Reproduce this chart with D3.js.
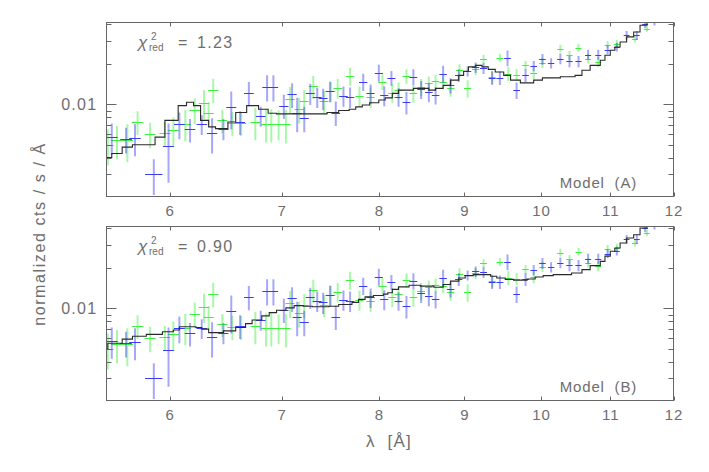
<!DOCTYPE html>
<html><head><meta charset="utf-8">
<script src="https://cdnjs.cloudflare.com/ajax/libs/d3/7.8.5/d3.min.js"></script>
<style>
html,body{margin:0;padding:0;background:#fff;}
svg{display:block;}
text{font-family:"Liberation Sans",Arial,sans-serif;fill:#6e6e6e;}
</style></head>
<body><svg id="chart" width="709" height="472"></svg>
<script>
// ---- data: [lambda (Å), normalized cts/s/Å, 1-sigma error] ----
const blueData = [
 [5.54,0.0057,0.0015],[5.65,0.0055,0.0012],[5.72,0.0056,0.0015],[5.87,0.0030,0.0009],
 [5.99,0.0049,0.0023],[6.08,0.0071,0.0016],[6.17,0.0065,0.0013],[6.27,0.0071,0.0012],
 [6.36,0.0061,0.0018],[6.46,0.0066,0.0012],[6.53,0.0095,0.0030],[6.61,0.0074,0.0015],
 [6.69,0.0122,0.0025],[6.80,0.0082,0.0014],[6.86,0.0135,0.0030],[6.92,0.0135,0.0030],
 [7.02,0.0098,0.0020],[7.10,0.0119,0.0025],[7.15,0.0087,0.0025],[7.22,0.0079,0.0017],
 [7.28,0.0121,0.0022],[7.35,0.0114,0.0020],[7.41,0.0111,0.0020],[7.48,0.0126,0.0022],
 [7.54,0.0087,0.0018],[7.62,0.0116,0.0020],[7.69,0.0114,0.0020],[7.83,0.0148,0.0022],
 [7.91,0.0121,0.0020],[8.00,0.0173,0.0025],[8.06,0.0117,0.0020],[8.14,0.0158,0.0020],
 [8.22,0.0114,0.0018],[8.31,0.0104,0.0020],[8.39,0.0161,0.0022],[8.48,0.0130,0.0020],
 [8.57,0.0124,0.0020],[8.65,0.0117,0.0017],[8.74,0.0170,0.0025],[8.83,0.0139,0.0018],
 [8.93,0.0165,0.0018],[9.04,0.0177,0.0015],[9.14,0.0189,0.0017],[9.24,0.0186,0.0017],
 [9.35,0.0158,0.0018],[9.45,0.0158,0.0018],[9.55,0.0223,0.0030],[9.67,0.0128,0.0018],
 [9.79,0.0165,0.0018],[9.90,0.0194,0.0017],[10.02,0.0218,0.0020],[10.14,0.0204,0.0018],
 [10.27,0.0220,0.0020],[10.40,0.0210,0.0020],[10.53,0.0210,0.0020],[10.67,0.0236,0.0020],
 [10.82,0.0236,0.0020],[10.96,0.0257,0.0020],[11.10,0.0269,0.0020],[11.25,0.0329,0.0025],
 [11.41,0.0329,0.0025],[11.54,0.0402,0.0030],[11.69,0.0420,0.0030]
];
const greenData = [
 [5.51,0.0050,0.0015],[5.58,0.0054,0.0015],[5.66,0.0054,0.0017],[5.74,0.0074,0.0015],
 [5.84,0.0060,0.0013],[5.96,0.0061,0.0013],[6.03,0.0064,0.0016],[6.13,0.0072,0.0019],
 [6.21,0.0091,0.0020],[6.29,0.0103,0.0025],[6.33,0.0087,0.0017],[6.37,0.0129,0.0027],
 [6.45,0.0076,0.0015],[6.54,0.0073,0.0015],[6.62,0.0073,0.0015],[6.75,0.0074,0.0020],
 [6.85,0.0072,0.0020],[6.90,0.0072,0.0020],[6.97,0.0072,0.0018],[7.04,0.0071,0.0020],
 [7.08,0.0110,0.0025],[7.17,0.0092,0.0020],[7.22,0.0106,0.0022],[7.31,0.0137,0.0027],
 [7.42,0.0106,0.0020],[7.49,0.0126,0.0022],[7.56,0.0133,0.0022],[7.69,0.0163,0.0025],
 [7.79,0.0116,0.0020],[7.91,0.0114,0.0020],[8.04,0.0148,0.0020],[8.15,0.0122,0.0020],
 [8.22,0.0128,0.0018],[8.31,0.0163,0.0020],[8.39,0.0121,0.0018],[8.48,0.0135,0.0020],
 [8.57,0.0144,0.0018],[8.65,0.0149,0.0018],[8.74,0.0148,0.0018],[8.83,0.0132,0.0018],
 [8.94,0.0180,0.0020],[9.04,0.0132,0.0020],[9.14,0.0183,0.0018],[9.24,0.0217,0.0017],
 [9.35,0.0161,0.0018],[9.45,0.0223,0.0015],[9.56,0.0170,0.0020],[9.67,0.0167,0.0017],
 [9.79,0.0196,0.0015],[9.90,0.0172,0.0018],[10.02,0.0205,0.0018],[10.27,0.0262,0.0017],
 [10.40,0.0233,0.0018],[10.53,0.0266,0.0018],[10.67,0.0220,0.0018],[10.82,0.0208,0.0018],
 [10.96,0.0280,0.0018],[11.10,0.0285,0.0020],[11.38,0.0311,0.0020],[11.57,0.0369,0.0020]
];
// half width of the wavelength bins (Å); wider bins listed separately
const binHalfWidth = 0.045;
const wideBins = {"5.87":0.07};

// ---- models: step functions [bin start λ, value] ----
const modelA = [
 [5.50,0.0040],[5.54,0.0043],[5.62,0.0048],[5.70,0.0050],[5.88,0.0057],[5.96,0.0076],
 [6.07,0.0098],[6.14,0.0104],[6.20,0.0098],[6.26,0.0076],[6.33,0.0068],[6.39,0.0066],
 [6.50,0.0074],[6.57,0.0087],[6.67,0.0098],[6.78,0.0092],[6.87,0.0086],[6.95,0.0085],
 [7.45,0.0087],[7.57,0.0090],[7.68,0.0092],[7.75,0.0096],[7.82,0.0099],[7.90,0.0103],
 [8.00,0.0108],[8.07,0.0112],[8.15,0.0121],[8.22,0.0128],[8.39,0.0132],[8.57,0.0128],
 [8.65,0.0132],[8.74,0.0139],[8.83,0.0152],[8.93,0.0165],[8.99,0.0177],[9.05,0.0191],
 [9.14,0.0196],[9.22,0.0191],[9.30,0.0183],[9.39,0.0175],[9.50,0.0165],[9.59,0.0152],
 [9.72,0.0145],[9.90,0.0152],[10.02,0.0158],[10.27,0.0161],[10.48,0.0165],[10.58,0.0180],
 [10.70,0.0196],[10.85,0.0214],[10.92,0.0233],[11.00,0.0254],[11.07,0.0269],[11.15,0.0293],
 [11.25,0.0320],[11.36,0.0348],[11.46,0.0391],[11.57,0.0414],[11.65,0.0450],[11.75,0.0500]
];
const modelB = [
 [5.50,0.0050],[5.51,0.0055],[5.62,0.0059],[5.70,0.0062],[5.81,0.0064],[5.94,0.0067],
 [6.03,0.0069],[6.08,0.0073],[6.22,0.0072],[6.27,0.0070],[6.33,0.0066],[6.46,0.0068],
 [6.57,0.0072],[6.66,0.0077],[6.72,0.0082],[6.81,0.0088],[6.88,0.0093],[6.95,0.0097],
 [7.04,0.0101],[7.12,0.0105],[7.21,0.0104],[7.30,0.0103],[7.47,0.0104],[7.57,0.0107],
 [7.71,0.0111],[7.78,0.0117],[7.85,0.0122],[7.94,0.0125],[8.05,0.0128],[8.10,0.0131],
 [8.15,0.0139],[8.22,0.0145],[8.34,0.0149],[8.47,0.0147],[8.63,0.0144],[8.74,0.0151],
 [8.83,0.0160],[8.93,0.0169],[9.01,0.0176],[9.11,0.0179],[9.33,0.0174],[9.41,0.0169],
 [9.52,0.0165],[9.63,0.0163],[9.81,0.0166],[9.92,0.0172],[10.03,0.0176],[10.17,0.0179],
 [10.43,0.0184],[10.58,0.0195],[10.70,0.0209],[10.85,0.0225],[10.92,0.0246],[11.00,0.0268],
 [11.07,0.0283],[11.15,0.0309],[11.25,0.0336],[11.36,0.0356],[11.46,0.0400],[11.57,0.0423],
 [11.65,0.0470],[11.75,0.0500]
];
const modelEnd = 12;

const xTicks = [6,7,8,9,10,11,12];
const yMajor = [0.01];
const yMinor = [0.003,0.004,0.005,0.006,0.007,0.008,0.009,0.02,0.03,0.04];
const panels = [
 {model: modelA, chi: "1.23", label: "Model\u00a0\u00a0(A)"},
 {model: modelB, chi: "0.90", label: "Model\u00a0\u00a0(B)"}
];
const xDomain = [5.5, 12];
const yDomain = [0.00205, 0.041];
const xLabel = "λ\u00a0\u00a0[Å]";
const yLabel = "normalized cts / s / Å";

// ---- drawing ----
const svg = d3.select("#chart");
const left = 106.5, right = 673.5;
const panelBox = [{top: 22.5, bottom: 196.5}, {top: 226.5, bottom: 400.5}];
const x = d3.scaleLog().domain(xDomain).range([left, right]);
const frameColor = "#666";
const blueCol = "#3b3bf5", greenCol = "#3df03d";

panels.forEach((p, i) => {
  const box = panelBox[i];
  const y = d3.scaleLog().domain(yDomain).range([box.bottom, box.top]);
  const g = svg.append("g");
  const cid = "clip" + i;
  svg.append("clipPath").attr("id", cid).append("rect")
    .attr("x", left).attr("y", box.top).attr("width", right - left).attr("height", box.bottom - box.top);
  const plot = g.append("g").attr("clip-path", `url(#${cid})`);

  function drawSeries(data, col) {
    const s = plot.append("g");
    data.forEach(d => {
      const [lam, v, e] = d;
      const hw = wideBins[String(lam)] || binHalfWidth;
      const lo = Math.max(v - e, yDomain[0] * 0.5);
      const cx = x(lam);
      s.append("line").attr("x1", cx).attr("x2", cx)
        .attr("y1", y(lo)).attr("y2", y(v + e))
        .attr("stroke", col).attr("stroke-width", 2).attr("stroke-opacity", 0.45);
      s.append("line").attr("x1", x(lam - hw)).attr("x2", x(lam + hw))
        .attr("y1", Math.round(y(v)) + 0.5).attr("y2", Math.round(y(v)) + 0.5)
        .attr("stroke", col).attr("stroke-width", 1);
    });
  }
  drawSeries(greenData, greenCol);
  drawSeries(blueData, blueCol);

  const stepPts = p.model.concat([[modelEnd, p.model[p.model.length - 1][1]]]);
  const line = d3.line().x(d => x(d[0])).y(d => y(d[1])).curve(d3.curveStepAfter);
  plot.append("path").datum(stepPts).attr("d", line)
    .attr("fill", "none").attr("stroke", "#2a2a2a").attr("stroke-width", 1.1);

  // frame
  g.append("rect").attr("x", left).attr("y", box.top)
    .attr("width", right - left).attr("height", box.bottom - box.top)
    .attr("fill", "none").attr("stroke", frameColor).attr("stroke-width", 1);

  // x ticks (inward, top and bottom)
  xTicks.forEach(t => {
    const tx = Math.round(x(t)) + 0.5;
    g.append("line").attr("x1", tx).attr("x2", tx).attr("y1", box.bottom).attr("y2", box.bottom - 4)
      .attr("stroke", frameColor);
    g.append("line").attr("x1", tx).attr("x2", tx).attr("y1", box.top).attr("y2", box.top + 4)
      .attr("stroke", frameColor);
  });
  g.append("g").selectAll("text").data(xTicks).join("text")
    .attr("x", d => x(d) + 0.5).attr("y", box.bottom + 19.5)
    .attr("text-anchor", "middle").attr("font-size", 15).attr("letter-spacing", 1).text(d => d);

  // y ticks (inward, left and right)
  function yTick(v, len) {
    const ty = Math.round(y(v)) + 0.5;
    g.append("line").attr("x1", left).attr("x2", left + len).attr("y1", ty).attr("y2", ty).attr("stroke", frameColor);
    g.append("line").attr("x1", right).attr("x2", right - len).attr("y1", ty).attr("y2", ty).attr("stroke", frameColor);
  }
  yMinor.forEach(v => yTick(v, 5));
  yMajor.forEach(v => yTick(v, 10));
  g.append("g").selectAll("text").data(yMajor).join("text")
    .attr("x", left - 9).attr("y", d => y(d) + 5.5)
    .attr("text-anchor", "end").attr("font-size", 16).attr("letter-spacing", 1.3).text(d => d);

  // chi^2 annotation
  const base = box.top + 25;
  g.append("text").attr("x", 138).attr("y", base).attr("font-size", 17)
    .attr("font-style", "italic").text("χ");
  g.append("text").attr("x", 151).attr("y", base - 8).attr("font-size", 10).text("2");
  g.append("text").attr("x", 149).attr("y", base + 3).attr("font-size", 10).text("red");
  g.append("text").attr("x", 178).attr("y", base).attr("font-size", 16).text("=");
  g.append("text").attr("x", 197).attr("y", base).attr("font-size", 16)
    .attr("letter-spacing", 1.3).text(p.chi);

  g.append("text").attr("x", 637).attr("y", box.bottom - 9)
    .attr("text-anchor", "end").attr("font-size", 15).attr("letter-spacing", 0.8).text(p.label);
});

svg.append("text").attr("x", (left + right) / 2 - 1).attr("y", 447)
  .attr("text-anchor", "middle").attr("font-size", 17).attr("letter-spacing", 1.2).text(xLabel);
svg.append("text").attr("transform", "translate(45,234) rotate(-90)")
  .attr("text-anchor", "middle").attr("font-size", 16).attr("letter-spacing", 1.6).text(yLabel);
</script></body></html>
